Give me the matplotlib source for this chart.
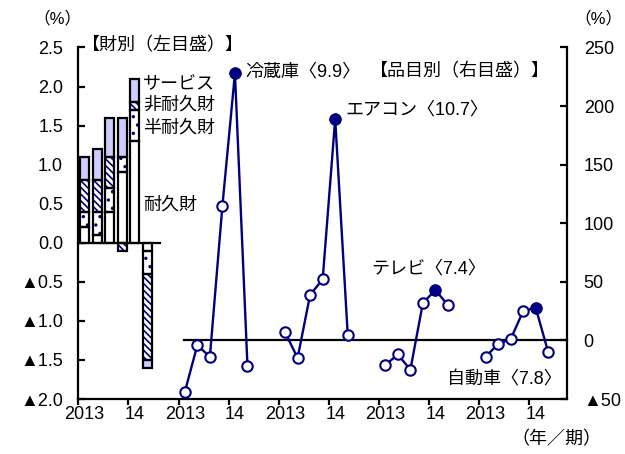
import matplotlib
matplotlib.use("Agg")
from matplotlib import pyplot as plt
from matplotlib.ticker import FuncFormatter
import numpy as np

plt.rcParams['font.family'] = ['Liberation Sans', 'Noto Sans CJK JP']
plt.rcParams['font.size'] = 13
plt.rcParams['hatch.linewidth'] = 1.2

# contributions by type of goods (left axis, %pt), 2013Q1 - 2014Q2
durable = [0.2, 0.1, 0.4, 0.9, 1.3, -0.1]
semi_durable = [0.2, 0.3, 0.3, 0.2, 0.4, -0.3]
non_durable = [0.4, 0.4, 0.4, -0.1, 0.1, -1.1]
services = [0.3, 0.4, 0.5, 0.5, 0.3, -0.1]

# y/y change by item (right axis, %), 2013Q1 - 2014Q2
fridge = [-44, -4, -14, 115, 228, -22]
aircon = [7, -15, 39, 52, 189, 5]
tv = [-21, -12, -25, 32, 43, 30]
car = [-14, -3, 1, 25, 28, -10]

item_names = ['冷蔵庫〈9.9〉', 'エアコン〈10.7〉', 'テレビ〈7.4〉', '自動車〈7.8〉']
year_labels = ['2013', '14'] * 5

navy = '#000080'

fig = plt.figure(figsize=(6.25, 4.54), dpi=100)
ax = fig.add_axes([0.1253, 0.1211, 0.7819, 0.7743])
ax2 = ax.twinx()

# ---- stacked bars ----
xb = np.arange(len(durable)) + 0.5
pos = np.zeros(len(xb))
neg = np.zeros(len(xb))
layers = [(durable, 'white', None),
          (semi_durable, 'white', '..'),
          (non_durable, 'white', '\\\\\\\\\\'),
          (services, '#ccccff', None)]
for vals, col, hatch in layers:
    v = np.array(vals)
    bottom = np.where(v >= 0, pos, neg)
    ax.bar(xb, v, 0.72, bottom=bottom, color=col, edgecolor=navy,
           linewidth=0, hatch=hatch, zorder=2)
    ax.bar(xb, v, 0.72, bottom=bottom, fill=False, edgecolor='black',
           linewidth=1.6, zorder=3)
    pos += np.clip(v, 0, None)
    neg += np.clip(v, None, 0)

ax.plot([0, 6.5], [0, 0], color='black', lw=1.6, zorder=4, clip_on=False)

ax.text(5.15, 2.03, 'サービス', va='center', ha='left')
ax.text(5.15, 1.77, '非耐久財', va='center', ha='left')
ax.text(5.15, 1.47, '半耐久財', va='center', ha='left')
ax.text(5.15, 0.49, '耐久財', va='center', ha='left')
ax.text(0.3, 2.52, '【財別（左目盛）】', va='center', ha='left', clip_on=False)

# ---- item lines ----
ax2.plot([8.4, 39], [0, 0], color='black', lw=1.6, zorder=2, clip_on=False)
for k, vals in enumerate([fridge, aircon, tv, car]):
    x = 8 * (k + 1) + np.arange(len(vals)) + 0.5
    ax2.plot(x, vals, color=navy, lw=1.7, marker='o', ms=7.5, mfc='white',
             mec=navy, mew=1.5, zorder=3, clip_on=False)
    ax2.plot(x[4], vals[4], 'o', color=navy, ms=7.5, zorder=4, clip_on=False)

ax2.text(13.3, 229, item_names[0], va='center', ha='left')
ax2.text(21.3, 197, item_names[1], va='center', ha='left')
ax2.text(23.4, 61, item_names[2], va='center', ha='left')
ax2.text(29.4, -34, item_names[3], va='center', ha='left')
ax2.text(23.3, 229, '【品目別（右目盛）】', va='center', ha='left')

# ---- axes ----
ax.set_xlim(0, 39)
ax.set_ylim(-2, 2.5)
ax2.set_ylim(-50, 250)

ax.set_yticks(np.arange(-2, 2.51, 0.5))
ax2.set_yticks(np.arange(-50, 251, 50))
ax.yaxis.set_major_formatter(FuncFormatter(
    lambda v, p: f'▲{abs(v):.1f}' if v < -1e-9 else f'{abs(v):.1f}'))
ax2.yaxis.set_major_formatter(FuncFormatter(
    lambda v, p: f'▲{abs(int(v))}' if v < 0 else f'{int(v)}'))

ax.set_xticks(np.arange(0, 37, 4))
ax.set_xticklabels([])
ax.set_xticks(np.arange(0, 37, 4) + 0.5, minor=True)
ax.set_xticklabels(year_labels, minor=True)
ax.tick_params(axis='x', which='major', direction='out', length=4, width=1.6)
ax.tick_params(axis='x', which='minor', length=0, pad=5)
ax.tick_params(axis='y', direction='in', length=5, width=1.6, pad=11)
ax2.tick_params(axis='y', direction='in', length=5, width=1.6, pad=12)

for a in (ax, ax2):
    a.spines['top'].set_visible(False)
    for s in a.spines.values():
        s.set_linewidth(1.6)
ax.spines['right'].set_visible(False)
ax2.spines['left'].set_visible(False)
ax2.spines['bottom'].set_visible(False)

fig.text(57 / 625, 1 - 18 / 454, '（%）', ha='center', va='center', fontsize=12)
fig.text(622 / 625, 1 - 18 / 454, '（%）', ha='right', va='center', fontsize=12)
fig.text(556 / 625, 1 - 440 / 454, '（年／期）', ha='center', va='center')

fig.savefig('out.png', dpi=100)
